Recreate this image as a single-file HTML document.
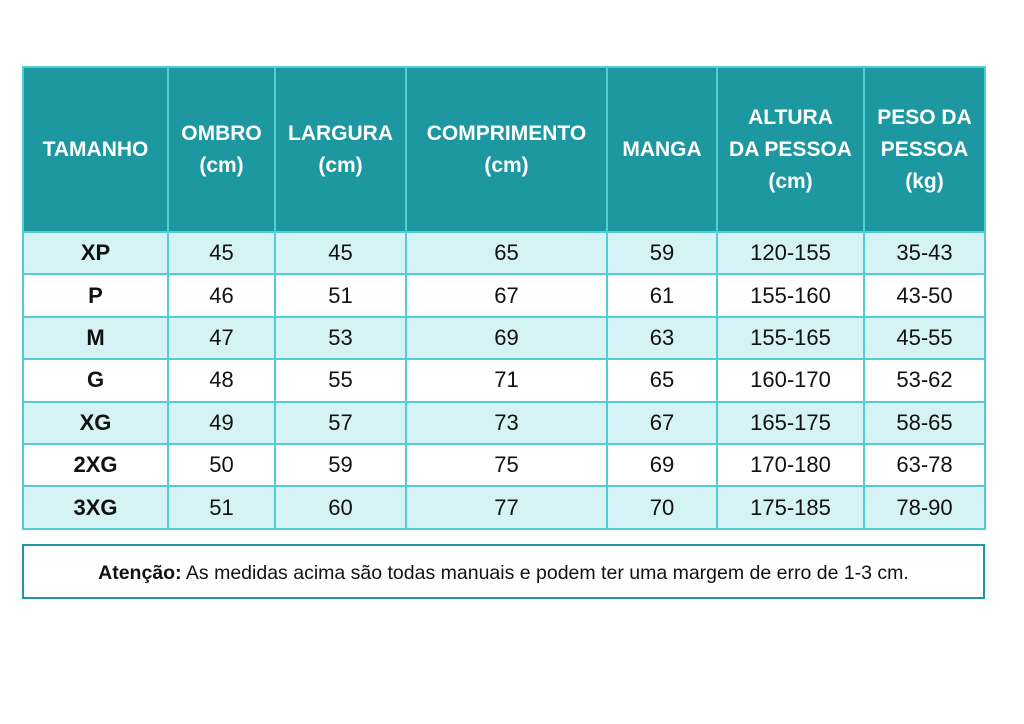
<!DOCTYPE html>
<html><head><style>
body{margin:0;width:1024px;height:724px;background:#fff;font-family:"Liberation Sans","DejaVu Sans",sans-serif;position:relative;overflow:hidden}
table{position:absolute;left:22px;top:66px;border-collapse:collapse;table-layout:fixed}
td{border:2px solid #52cdd5;text-align:center;padding:0;font-size:22px;color:#111}
tr.h td{background:#1e98a0;color:#fff;font-weight:bold;font-size:21px;line-height:32px;height:163px}
tr.r td{height:40.4px}
tr.a td{background:#d5f2f4}
td.s{font-weight:bold}
.note{position:absolute;left:22px;top:544px;width:959px;height:51px;border:2px solid #1e98a0;font-size:19.5px;line-height:55px;text-align:center;color:#111}
</style></head><body>
<table>
<colgroup><col style="width:145px"><col style="width:107px"><col style="width:131px"><col style="width:201px"><col style="width:110px"><col style="width:147px"><col style="width:121px"></colgroup>
<tr class="h"><td>TAMANHO</td><td>OMBRO<br>(cm)</td><td>LARGURA<br>(cm)</td><td>COMPRIMENTO<br>(cm)</td><td>MANGA</td><td>ALTURA<br>DA PESSOA<br>(cm)</td><td>PESO DA<br>PESSOA<br>(kg)</td></tr>
<tr class="r a"><td class="s">XP</td><td>45</td><td>45</td><td>65</td><td>59</td><td>120-155</td><td>35-43</td></tr>
<tr class="r"><td class="s">P</td><td>46</td><td>51</td><td>67</td><td>61</td><td>155-160</td><td>43-50</td></tr>
<tr class="r a"><td class="s">M</td><td>47</td><td>53</td><td>69</td><td>63</td><td>155-165</td><td>45-55</td></tr>
<tr class="r"><td class="s">G</td><td>48</td><td>55</td><td>71</td><td>65</td><td>160-170</td><td>53-62</td></tr>
<tr class="r a"><td class="s">XG</td><td>49</td><td>57</td><td>73</td><td>67</td><td>165-175</td><td>58-65</td></tr>
<tr class="r"><td class="s">2XG</td><td>50</td><td>59</td><td>75</td><td>69</td><td>170-180</td><td>63-78</td></tr>
<tr class="r a"><td class="s">3XG</td><td>51</td><td>60</td><td>77</td><td>70</td><td>175-185</td><td>78-90</td></tr>
</table>
<div class="note"><b>Atenção:</b> As medidas acima são todas manuais e podem ter uma margem de erro de 1-3 cm.</div>
</body></html>
